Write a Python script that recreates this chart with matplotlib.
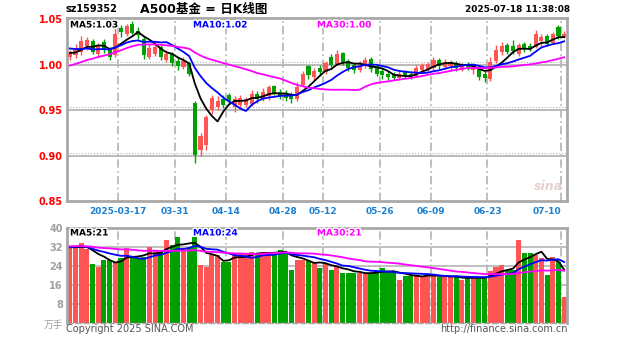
import numpy as np
import matplotlib
matplotlib.use('Agg')
import matplotlib.pyplot as plt
import matplotlib.patheffects as pe

plt.rcParams['font.family'] = ['DejaVu Sans', 'Noto Sans CJK SC']

title_code = 'sz159352'
title_name = 'A500基金 = 日K线图'
timestamp = '2025-07-18 11:38:08'

# daily candles, 88 trading days
opens = [1.008, 1.010, 1.014, 1.020, 1.026, 1.012, 1.025, 1.016, 1.010, 1.040,
         1.034, 1.045, 1.037, 1.028, 1.008, 1.012, 1.019, 1.005, 1.012, 1.004,
         0.997, 1.002, 0.958, 0.906, 0.912, 0.950, 0.953, 0.962, 0.966, 0.953,
         0.955, 0.956, 0.957, 0.968, 0.962, 0.965, 0.976, 0.970, 0.968, 0.967,
         0.962, 0.978, 0.998, 0.986, 0.996, 0.992, 1.008, 1.001, 1.013, 1.004,
         0.999, 0.994, 0.999, 1.006, 0.998, 0.993, 0.990, 0.989, 0.985, 0.992,
         0.990, 0.987, 0.994, 0.995, 0.996, 1.005, 0.997, 0.998, 1.002, 0.995,
         1.000, 0.994, 0.996, 0.990, 0.984, 1.004, 1.014, 1.021, 1.020, 1.012,
         1.022, 1.020, 1.019, 1.026, 1.031, 1.024, 1.041, 1.030]
highs = [1.016, 1.022, 1.031, 1.030, 1.028, 1.024, 1.028, 1.019, 1.046, 1.043,
         1.045, 1.048, 1.041, 1.030, 1.022, 1.022, 1.021, 1.016, 1.014, 1.008,
         1.008, 1.003, 0.960, 0.925, 0.945, 0.967, 0.965, 0.966, 0.969, 0.965,
         0.966, 0.964, 0.972, 0.971, 0.974, 0.978, 0.978, 0.973, 0.972, 0.970,
         0.981, 0.993, 0.999, 0.996, 0.999, 1.004, 1.011, 1.016, 1.014, 1.006,
         1.002, 1.004, 1.008, 1.008, 1.000, 0.996, 0.993, 0.992, 0.993, 0.994,
         0.993, 1.000, 1.002, 1.003, 1.008, 1.007, 1.006, 1.005, 1.004, 1.002,
         1.003, 1.000, 0.998, 0.993, 1.008, 1.021, 1.025, 1.024, 1.027, 1.024,
         1.025, 1.024, 1.038, 1.034, 1.033, 1.036, 1.043, 1.037]
lows = [1.005, 1.007, 1.010, 1.016, 1.012, 1.009, 1.013, 1.005, 1.008, 1.030,
        1.031, 1.033, 1.028, 1.006, 1.006, 1.009, 1.005, 1.003, 0.998, 0.994,
        0.995, 0.987, 0.892, 0.900, 0.906, 0.946, 0.950, 0.952, 0.957, 0.948,
        0.952, 0.953, 0.954, 0.958, 0.960, 0.961, 0.966, 0.962, 0.960, 0.958,
        0.960, 0.976, 0.984, 0.983, 0.988, 0.990, 0.997, 0.999, 1.000, 0.993,
        0.991, 0.992, 0.996, 0.992, 0.987, 0.984, 0.983, 0.983, 0.983, 0.985,
        0.984, 0.986, 0.992, 0.993, 0.994, 0.995, 0.995, 0.994, 0.993, 0.993,
        0.994, 0.990, 0.983, 0.981, 0.982, 1.002, 1.010, 1.011, 1.012, 1.009,
        1.014, 1.015, 1.018, 1.020, 1.020, 1.022, 1.028, 1.029]
closes = [1.012, 1.018, 1.026, 1.027, 1.014, 1.020, 1.016, 1.008, 1.034, 1.036,
          1.042, 1.035, 1.032, 1.010, 1.018, 1.019, 1.008, 1.012, 1.002, 0.998,
          1.004, 0.990, 0.901, 0.921, 0.942, 0.963, 0.960, 0.955, 0.960, 0.962,
          0.963, 0.962, 0.968, 0.962, 0.970, 0.975, 0.968, 0.965, 0.963, 0.962,
          0.975, 0.990, 0.988, 0.993, 0.992, 1.002, 1.000, 1.012, 1.003, 0.996,
          0.994, 1.000, 1.005, 0.995, 0.990, 0.988, 0.986, 0.985, 0.990, 0.988,
          0.987, 0.996, 1.000, 1.001, 1.005, 0.998, 1.003, 1.002, 0.996, 0.999,
          0.997, 0.998, 0.986, 0.985, 1.003, 1.016, 1.020, 1.014, 1.015, 1.021,
          1.017, 1.018, 1.033, 1.030, 1.023, 1.033, 1.031, 1.034]
volumes = [31.5, 32.0, 33.7, 31.0, 25.0, 23.6, 26.5, 26.5, 25.7, 27.4,
           31.6, 27.8, 27.5, 28.0, 32.0, 30.7, 29.9, 35.0, 32.8, 36.2,
           31.6, 32.0, 36.2, 24.4, 23.6, 28.6, 28.6, 25.7, 25.5, 29.5,
           29.5, 29.0, 29.8, 28.6, 30.0, 30.0, 29.5, 30.7, 30.0, 22.3,
           26.5, 26.5, 26.0, 25.2, 23.2, 25.0, 22.3, 23.6, 21.0, 21.0,
           21.0, 21.0, 21.0, 21.0, 22.0, 23.0, 21.5, 21.5, 18.0, 20.0,
           20.0, 20.0, 20.0, 20.0, 20.0, 19.4, 19.4, 19.4, 19.4, 18.0,
           18.9, 19.4, 19.4, 19.4, 22.0, 23.5, 24.4, 22.3, 22.3, 35.0,
           29.5, 29.5, 28.6, 27.4, 20.2, 27.8, 25.7, 11.0]

# days before the visible window, only used to warm up the moving averages
pre_closes = [0.962, 0.965, 0.960, 0.968, 0.966, 0.970, 0.964, 0.967, 0.972, 0.969,
              0.975, 0.982, 1.005, 1.012, 1.018, 1.022, 1.028, 1.025, 1.030, 1.027,
              1.024, 1.026, 1.020, 1.025, 1.018, 1.015, 1.012, 1.010, 1.014]
pre_volumes = [30, 34, 33, 31, 35, 32, 30, 33, 34, 31, 32, 36, 33, 30, 31,
               34, 32, 33, 35, 31, 30, 32, 34, 33, 31, 32, 33, 31, 32]

tick_idx = [8, 18, 27, 37, 44, 54, 63, 73, 86]
tick_labels = ['2025-03-17', '03-31', '04-14', '04-28', '05-12',
               '05-26', '06-09', '06-23', '07-10']
price_ticks = [0.85, 0.90, 0.95, 1.00, 1.05]
vol_ticks = [8, 16, 24, 32, 40]
ma_periods = [5, 10, 30]
ma_colors = ['#000000', '#0000ff', '#ff00ff']
price_ma_labels = ['MA5:1.03', 'MA10:1.02', 'MA30:1.00']
vol_ma_labels = ['MA5:21', 'MA10:24', 'MA30:21']

UP = '#ff5555'
DOWN = '#00a000'
GRID = '#b4b4b4'
BORDER = '#a8a8a8'
W, H = 627, 342


def moving_avg(values, n, count):
    ma = np.convolve(values, np.ones(n) / n, mode='valid')
    return ma[-count:]


fig = plt.figure(figsize=(W / 100, H / 100), dpi=100)
fig.patch.set_facecolor('white')


def px_axes(x0, y0, x1, y1):
    return fig.add_axes([x0 / W, 1 - y1 / H, (x1 - x0) / W, (y1 - y0) / H])


ax_p = px_axes(67, 18, 567, 201)
ax_v = px_axes(67, 228, 567, 323)

n = len(closes)
x = np.arange(n)
o = np.array(opens)
c = np.array(closes)
up = c >= o
colors = [UP if u else DOWN for u in up]

for ax in (ax_p, ax_v):
    ax.set_xlim(-0.5, n - 0.5)
    for s in ax.spines.values():
        s.set_color(BORDER)
        s.set_linewidth(2)
    for t in tick_idx:
        ax.axvline(t + 0.5, color=GRID, lw=1.2, ls=(0, (5, 2, 1, 2)), zorder=0)

# price panel
ax_p.set_ylim(0.85, 1.0511)
for lvl in price_ticks[1:-1]:
    ax_p.axhline(lvl, color=GRID, lw=1.3, zorder=0)
    ax_p.axhline(lvl + 0.003, color=GRID, lw=0.8, ls=':', zorder=0)

ax_p.vlines(x, lows, highs, colors=colors, lw=1, zorder=2)
body = np.maximum(np.abs(c - o), 0.0008)
ax_p.bar(x, body, bottom=np.minimum(o, c), width=0.72, color=colors, zorder=3)

all_closes = np.array(pre_closes + closes)
for p, col in zip(ma_periods, ma_colors):
    ax_p.plot(x, moving_avg(all_closes, p, n), color=col, lw=1.3, zorder=4)

ax_p.set_yticks(price_ticks, labels=[f'{t:.2f}' for t in price_ticks])
ax_p.tick_params(axis='y', length=0, pad=3, labelcolor='#ff0000', labelsize=7)
for lab in ax_p.get_yticklabels():
    lab.set_fontweight('bold')
ax_p.set_xticks([t + 0.5 for t in tick_idx], labels=tick_labels)
ax_p.tick_params(axis='x', length=0, pad=4, labelcolor='#1a7fd0', labelsize=6.5)
for lab in ax_p.get_xticklabels():
    lab.set_fontweight('bold')
ax_p.get_xticklabels()[-1].set_ha('right')

# volume panel
ax_v.set_ylim(0, 40)
for lvl in vol_ticks[:-1]:
    ax_v.axhline(lvl, color=GRID, lw=1.2, zorder=0)
ax_v.bar(x, volumes, width=0.9, color=colors, zorder=2)
all_vols = np.array(pre_volumes + volumes, dtype=float)
for p, col in zip(ma_periods, ma_colors):
    ax_v.plot(x, moving_avg(all_vols, p, n), color=col, lw=1.3, zorder=4)
ax_v.set_yticks(vol_ticks, labels=[str(t) for t in vol_ticks])
ax_v.tick_params(axis='y', length=0, pad=3, labelcolor='#a0a0a0', labelsize=7)
for lab in ax_v.get_yticklabels():
    lab.set_fontweight('bold')
ax_v.set_xticks([])
ax_v.spines['bottom'].set_linestyle((0, (4, 2)))
ax_v.spines['bottom'].set_linewidth(1)

# texts
halo = [pe.withStroke(linewidth=2, foreground='white')]
fig.text(66 / W, 1 - 9 / H, title_code, fontsize=7, fontweight='bold', va='center')
fig.text(204 / W, 1 - 10 / H, title_name, fontsize=9, fontweight='bold',
         ha='center', va='center')
fig.text(570 / W, 1 - 10 / H, timestamp, fontsize=6.5, fontweight='bold',
         ha='right', va='center')

for lab, col, px in zip(price_ma_labels, ma_colors, [70, 193, 317]):
    fig.text(px / W, 1 - 25 / H, lab, color=col, fontsize=6.5, fontweight='bold',
             va='center', path_effects=halo, zorder=10)
for lab, col, px in zip(vol_ma_labels, ma_colors, [70, 193, 317]):
    fig.text(px / W, 1 - 233 / H, lab, color=col, fontsize=6.5, fontweight='bold',
             va='center', path_effects=halo, zorder=10)

fig.text(63 / W, 1 - 325 / H, '万手', color='#a0a0a0', fontsize=7,
         ha='right', va='center')
fig.text(66 / W, 1 - 329 / H, 'Copyright 2025 SINA.COM', color='#555555',
         fontsize=7, va='center')
fig.text(568 / W, 1 - 329 / H, 'http://finance.sina.com.cn', color='#555555',
         fontsize=7, ha='right', va='center')
fig.text(548 / W, 1 - 187 / H, 'sina', color='#e0c4c4', fontsize=9,
         fontstyle='italic', fontweight='bold', ha='center', va='center', alpha=0.8)

fig.savefig('out.png', dpi=100, facecolor='white')
